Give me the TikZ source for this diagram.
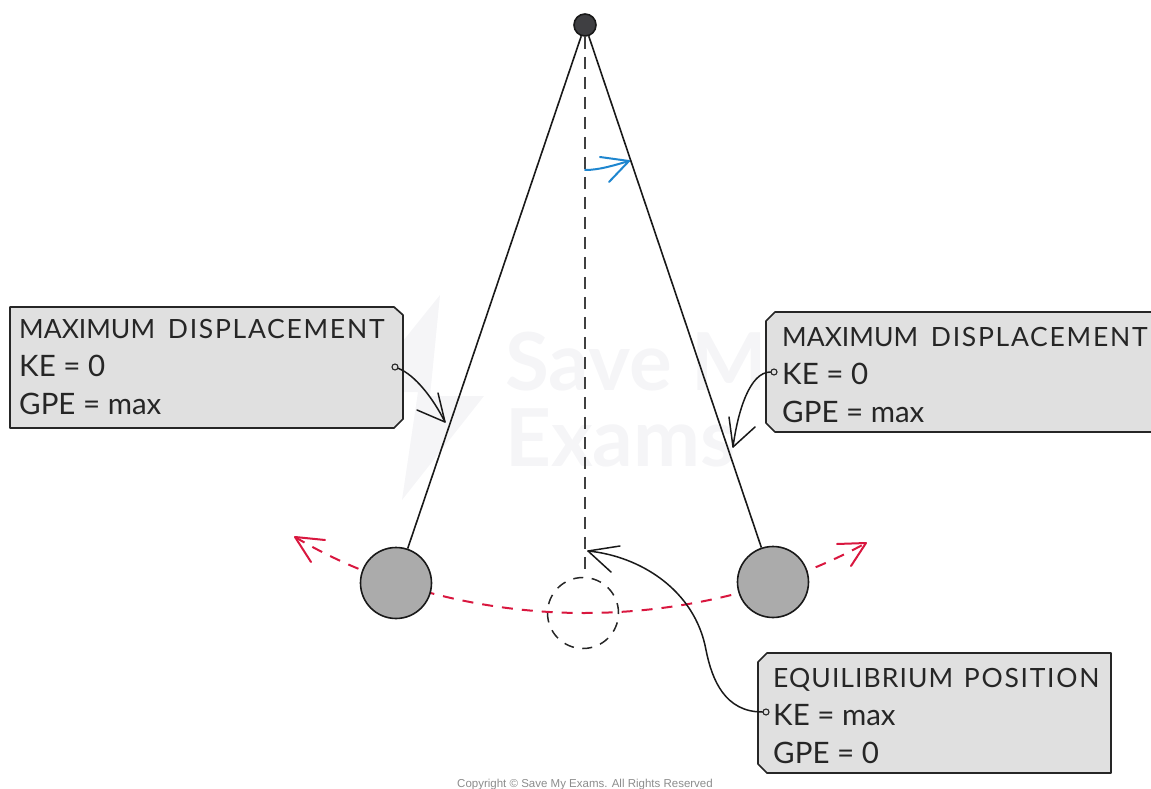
\documentclass[tikz,border=0pt]{standalone}
\usepackage{fontspec}
\setmainfont{Lato}
\newfontfamily\copyfont{Liberation Sans}
\newfontfamily\wordfont{Lato}[LetterSpace=4]
\newfontfamily\widefont{Lato}[LetterSpace=6.5]
\usetikzlibrary{calc}
\definecolor{boxgrey}{HTML}{E0E0E0}
\definecolor{bobgrey}{HTML}{ABABAB}
\definecolor{pivotgrey}{HTML}{3F3F42}
\definecolor{redline}{HTML}{D9173F}
\definecolor{blueline}{HTML}{1E86CF}
\definecolor{markgrey}{HTML}{F5F5F7}
\newcommand{\midword}[1]{{\wordfont #1}}
\newcommand{\wideword}[1]{{\widefont #1}}
\newcommand{\biggerline}[1]{{\fontsize{29.5}{38}\selectfont #1}}
\tikzset{
 infobox/.style={draw=black!85,line width=1.7pt,fill=boxgrey,line join=round},
 boxtext/.style={inner sep=0pt,anchor=west,align=left,font=\fontsize{26.5}{38}\selectfont,text=black!85},
 rod/.style={line width=1.6pt,black!90},
 dashline/.style={line width=1.6pt,black!75,dash pattern=on 12pt off 8pt},
 thinarrow/.style={line width=1.5pt,black!90,line cap=round,line join=round},
 redarrow/.style={line width=2pt,redline,line cap=round,line join=round},
 bluearrow/.style={line width=2pt,blueline,line cap=round,line join=round},
 bob/.style={circle,draw=black!90,line width=1.6pt,fill=bobgrey,minimum size=71pt,inner sep=0pt},
 ghost/.style={circle,draw=black!85,line width=1.5pt,dash pattern=on 10pt off 8.5pt,minimum size=71pt,inner sep=0pt},
 dot/.style={circle,draw=black!85,line width=1.1pt,minimum size=6pt,inner sep=0pt},
 marktext/.style={text=markgrey,font=\bfseries\fontsize{80}{80}\selectfont,anchor=west,inner sep=0pt}
}
\begin{document}
\begin{tikzpicture}[x=1pt,y=-1pt]
\useasboundingbox (0,0) rectangle (1151,789);
% watermark
\fill[markgrey] (440,295) -- (362,392) -- (418,392) -- (402,500) -- (484,396) -- (430,396) -- cycle;
\node[marktext] (wma) at (505,368) {Save My};
\node[marktext] (wmb) at (505,438) {Exams};
% pendulum nodes
\node[circle,draw=black!90,line width=1.6pt,fill=pivotgrey,minimum size=22pt,inner sep=0pt] (pivot) at (585,25) {};
\node[ghost] (mid) at (583,613) {};
% red swing arc, laid under the bobs
\coordinate (swingL) at (295,537);
\coordinate (swingLa) at (325,540);
\coordinate (swingLb) at (311,562);
\coordinate (swingR) at (866,543);
\coordinate (swingRa) at (837,544);
\coordinate (swingRb) at (851,566);
\coordinate (arcmid) at (584,613);
\draw[redarrow,dash pattern=on 11pt off 9pt,line cap=butt] (swingL) .. controls (375,585) and (480,613) .. (arcmid) .. controls (690,613) and (790,585) .. (swingR);
\draw[redarrow] (swingLa) -- (swingL) -- (swingLb);
\draw[redarrow] (swingRa) -- (swingR) -- (swingRb);
\node[bob] (bobL) at (396,583) {};
\node[bob] (bobR) at (773,582) {};
\draw[rod] (pivot) -- (bobL);
\draw[rod] (pivot) -- (bobR);
\draw[dashline] (pivot.south) -- (pivot.south |- mid.north);
% blue arrow
\coordinate (blueS) at (585,170);
\coordinate (blueT) at (629,161);
\coordinate (blueA) at (600,157);
\coordinate (blueB) at (609,182);
\draw[bluearrow] (blueS) .. controls (600,170) and (615,165) .. (blueT);
\draw[bluearrow] (blueA) -- (blueT) -- (blueB);
% boxes
\draw[infobox] (10,307) -- (394,307) -- (403,315) -- (403,419) -- (394,428) -- (10,428) -- cycle;
\node[boxtext] (textL) at (19,367) {MAXIMUM\hspace{6pt} \wideword{DISPLACEMENT}\\\biggerline{KE = 0}\\\biggerline{GPE = max}};
\draw[infobox] (775,312) -- (1170,312) -- (1170,432) -- (775,432) -- (766,423) -- (766,321) -- cycle;
\node[boxtext] (textR) at (782,375) {MAXIMUM\hspace{6pt} \wideword{DISPLACEMENT}\\\biggerline{KE = 0}\\\biggerline{GPE = max}};
\draw[infobox] (767,653) -- (1111,653) -- (1111,773) -- (767,773) -- (758,764) -- (758,662) -- cycle;
\node[boxtext] (textE) at (773,716) {\midword{EQUILIBRIUM}\hspace{4pt} \wideword{POSITION}\\\biggerline{KE = max}\\\biggerline{GPE = 0}};
% callouts
\node[dot] (dotL) at (395,367) {};
\node[dot] (dotR) at (774,372) {};
\node[dot] (dotE) at (766,712) {};
\coordinate (tipL) at (445,422);
\coordinate (tipLa) at (438,393);
\coordinate (tipLb) at (417,410);
\coordinate (tipR) at (733,447);
\coordinate (tipRa) at (729,417);
\coordinate (tipRb) at (755,427);
\coordinate (tipE) at (588,551);
\coordinate (tipEa) at (620,546);
\coordinate (tipEb) at (611,572);
\draw[thinarrow] (dotL) .. controls (415,375) and (433,398) .. (tipL);
\draw[thinarrow] (tipLa) -- (tipL) -- (tipLb);
\draw[thinarrow] (dotR) .. controls (750,372) and (738,410) .. (tipR);
\draw[thinarrow] (tipRa) -- (tipR) -- (tipRb);
\draw[thinarrow] (dotE) .. controls (725,712) and (712,680) .. (706,650) .. controls (695,590) and (640,556) .. (tipE);
\draw[thinarrow] (tipEa) -- (tipE) -- (tipEb);
% copyright
\node[font=\copyfont\fontsize{11.5}{12}\selectfont,text=black!45] (copy) at (585,785) {Copyright © Save My Exams. All Rights Reserved};
\end{tikzpicture}
\end{document}
